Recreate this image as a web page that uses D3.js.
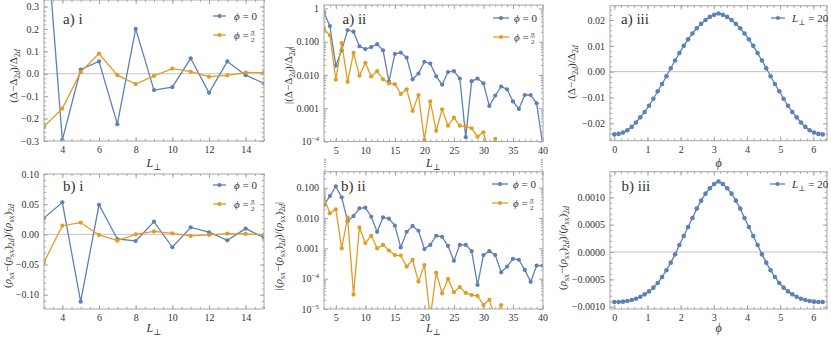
<!DOCTYPE html>
<html>
<head>
<meta charset="utf-8">
<script src="https://cdn.jsdelivr.net/npm/d3@7"></script>
<style>
body { margin: 0; background: #fff; }
svg text { font-family: "Liberation Serif", "DejaVu Serif", serif; fill: #333; }
</style>
</head>
<body>
<script>
// ---- data ----
var L_short = [3, 4, 5, 6, 7, 8, 9, 10, 11, 12, 13, 14, 15];
var L_long = [3, 4, 5, 6, 7, 8, 9, 10, 11, 12, 13, 14, 15, 16, 17, 18, 19, 20, 21, 22,
              23, 24, 25, 26, 27, 28, 29, 30, 31, 32, 33, 34, 35, 36, 37, 38, 39, 40];
var phiGrid = [0, 0.131, 0.262, 0.393, 0.524, 0.654, 0.785, 0.916, 1.047, 1.178, 1.309, 1.440,
               1.571, 1.702, 1.833, 1.963, 2.094, 2.225, 2.356, 2.487, 2.618, 2.749, 2.880, 3.011,
               3.142, 3.272, 3.403, 3.534, 3.665, 3.796, 3.927, 4.058, 4.189, 4.320, 4.451, 4.581,
               4.712, 4.843, 4.974, 5.105, 5.236, 5.367, 5.498, 5.629, 5.760, 5.890, 6.021, 6.152, 6.283];

// a) i  (Delta - Delta_2d)/Delta_2d
var aI_phi0 = [0.76, -0.295, 0.019, 0.055, -0.225, 0.2, -0.073, -0.06, 0.069, -0.085, 0.055, -0.0063, -0.043];
var aI_phiHalf = [-0.236, -0.155, 0.0072, 0.09, -0.0062, -0.046, -0.0095, 0.023, 0.009, -0.013, -0.0074, 0.0056, 0.0053];

// a) ii  absolute values, log axis
var aII_phi0 = [0.76, 0.295, 0.019, 0.055, 0.225, 0.2, 0.073, 0.06, 0.069, 0.085, 0.055, 0.0063, 0.043,
                0.047, 0.033, 0.0074, 0.011, 0.025, 0.022, 0.0091, 0.0051, 0.0123, 0.013, 0.0078, 0.000135,
                0.0065, 0.0078, 0.0056, 0.00117, 0.0024, 0.0045, 0.0037, 0.0016, 0.00095, 0.0025, 0.0025,
                0.0014, 0.00009];
var aII_L_half = L_long.slice(0, 30);
var aII_phiHalf = [0.236, 0.155, 0.0072, 0.09, 0.0062, 0.046, 0.0095, 0.023, 0.009, 0.013, 0.0074, 0.0056,
                   0.0053, 0.0027, 0.0037, 0.00083, 0.0025, 0.000112, 0.0016, 0.00021, 0.00093, 0.0003,
                   0.00052, 0.0003, 0.00028, 0.00025, 0.00014, 0.00019, 0.000047, 0.00012];

// a) iii  L = 20 versus phi
var aIII_L20 = [-0.0243, -0.0241, -0.0236, -0.0227, -0.0214, -0.0197, -0.0177, -0.0156, -0.0132, -0.0105,
                -0.0076, -0.0048, -0.0018, 0.0013, 0.0043, 0.0072, 0.0100, 0.0125, 0.0148, 0.0168, 0.0185,
                0.0200, 0.0212, 0.0220, 0.0225, 0.0220, 0.0212, 0.0200, 0.0185, 0.0168, 0.0148, 0.0125,
                0.0100, 0.0072, 0.0043, 0.0013, -0.0018, -0.0048, -0.0076, -0.0105, -0.0132, -0.0156,
                -0.0177, -0.0197, -0.0214, -0.0227, -0.0236, -0.0241, -0.0243];

// b) i  (rho_sx - (rho_sx)_2d)/(rho_sx)_2d
var bI_phi0 = [0.027, 0.053, -0.1115, 0.049, -0.0077, -0.011, 0.021, -0.0214, 0.0115, 0.0035, -0.0099, 0.0095, -0.0055];
var bI_phiHalf = [-0.046, 0.0143, 0.0195, -0.001, -0.0105, 0.00003, 0.0049, 0.0015, -0.0026, -0.001, 0.0013, 0.00085, -0.0006];

// b) ii  absolute values, log axis
var bII_phi0 = [0.027, 0.053, 0.11, 0.048, 0.0079, 0.0116, 0.021, 0.022, 0.011, 0.0035, 0.0105, 0.0095, 0.0056,
                0.00107, 0.0035, 0.0055, 0.0038, 0.00095, 0.0013, 0.0026, 0.0024, 0.0012, 0.00039, 0.0013,
                0.0013, 0.00081, 0.000062, 0.0006, 0.00081, 0.0006, 0.000162, 0.00025, 0.00045, 0.00042,
                0.000195, 0.000079, 0.00027, 0.00027];
var bII_L_half = L_long.slice(0, 31);
var bII_phiHalf = [0.046, 0.0143, 0.0195, 0.001, 0.0105, 0.00003, 0.0049, 0.0015, 0.0026, 0.001, 0.0013,
                   0.00085, 0.0006, 0.00058, 0.00025, 0.00042, 0.00008, 0.00028, 0.000005, 0.000158,
                   0.000033, 0.000098, 0.000036, 0.000053, 0.000034, 0.000029, 0.000027, 0.0000135,
                   0.00002, 0.000005, 0.0000135];

// b) iii
var bIII_L20 = [-0.000915, -0.000913, -0.000908, -0.000896, -0.000878, -0.000854, -0.000817, -0.000774,
                -0.000720, -0.000652, -0.000567, -0.000457, -0.000335, -0.000195, -0.000043, 0.000128,
                0.000293, 0.000457, 0.000622, 0.000793, 0.000939, 0.001067, 0.001165, 0.001244, 0.001290,
                0.001244, 0.001165, 0.001067, 0.000939, 0.000793, 0.000622, 0.000457, 0.000293, 0.000128,
                -0.000043, -0.000195, -0.000335, -0.000457, -0.000567, -0.000652, -0.000720, -0.000774,
                -0.000817, -0.000854, -0.000878, -0.000896, -0.000908, -0.000913, -0.000915];

// tick values
var xTicksL = [4, 6, 8, 10, 12, 14];
var xTicksLlong = [5, 10, 15, 20, 25, 30, 35, 40];
var xTicksPhi = [0, 1, 2, 3, 4, 5, 6];
var yTicksAI = [-0.3, -0.2, -0.1, 0, 0.1, 0.2, 0.3];
var yTicksAII = [0.0001, 0.001, 0.01, 0.1, 1];
var yTicksAIII = [-0.02, -0.01, 0, 0.01, 0.02];
var yTicksBI = [-0.1, -0.05, 0, 0.05, 0.1];
var yTicksBII = [0.00001, 0.0001, 0.001, 0.01, 0.1];
var yTicksBIII = [-0.001, -0.0005, 0, 0.0005, 0.001];

var blue = "#5e81b5", orange = "#e19c24";
var frameCol = "#a6a6a6";

var svg = d3.select("body").append("svg").attr("width", 831).attr("height", 337);

// steps between a and b (for minor ticks)
function steps(a, b, s) {
  var out = [];
  for (var v = a; v <= b + s * 1e-6; v += s) out.push(+v.toFixed(8));
  return out;
}
function logMinor(lo, hi) {
  var out = [];
  for (var e = lo; e < hi; e++) for (var m = 2; m <= 9; m++) out.push(m * Math.pow(10, e));
  return out;
}

// rich text: parts = [{t, i (italic), sub, sup}]
function rich(sel, parts, size) {
  var shift = 0;
  parts.forEach(function(p) {
    var target = p.sub ? 3 : (p.sup ? -4 : 0);
    var ts = sel.append("tspan").text(p.t).attr("dy", target - shift);
    if (p.i) ts.attr("font-style", "italic");
    if (p.sub || p.sup) ts.attr("font-size", size * 0.72);
    shift = target;
  });
}

function logLabel(d) {
  if (d >= 0.001) return d === 1 ? "1" : d3.format(".3f")(d);
  return "";
}

function drawPanel(p) {
  var g = svg.append("g");
  var x = d3.scaleLinear().domain(p.xDom).range(p.xRng);
  var y = (p.log ? d3.scaleLog() : d3.scaleLinear()).domain(p.yDom).range(p.yRng);
  var f = p.frame; // [left, top, right, bottom]

  var clip = svg.append("clipPath").attr("id", "clip" + p.id);
  clip.append("rect").attr("x", f[0]).attr("y", f[1]).attr("width", f[2] - f[0]).attr("height", f[3] - f[1]);

  if (p.zero) {
    g.append("line").attr("x1", f[0]).attr("x2", f[2]).attr("y1", y(0)).attr("y2", y(0))
      .attr("stroke", "#c4c4c4").attr("stroke-width", 1);
  }

  var plot = g.append("g").attr("clip-path", "url(#clip" + p.id + ")");
  p.series.forEach(function(s) {
    var pts = s.x.map(function(v, i) { return [v, s.y[i]]; });
    plot.append("path").datum(pts)
      .attr("fill", "none").attr("stroke", s.color).attr("stroke-width", 1.3)
      .attr("d", d3.line().x(function(d) { return x(d[0]); }).y(function(d) { return y(d[1]); }));
    plot.selectAll(null).data(pts).enter().append("circle")
      .attr("cx", function(d) { return x(d[0]); })
      .attr("cy", function(d) { return y(d[1]); })
      .attr("r", s.r || 2.1).attr("fill", s.color);
  });

  var style = function(sel) {
    sel.select(".domain").remove();
    sel.selectAll("line").attr("stroke", frameCol);
    sel.attr("font-family", null).attr("font-size", 10);
    sel.selectAll("text").attr("fill", "#333");
  };
  var addAxis = function(fn, scale, vals, size, tr, fmt) {
    var a = fn(scale).tickValues(vals).tickSize(-size).tickPadding(5).tickFormat(fmt || "");
    return g.append("g").attr("transform", tr).call(a).call(style);
  };
  var bt = "translate(0," + f[3] + ")", tp = "translate(0," + f[1] + ")";
  var lf = "translate(" + f[0] + ",0)", rt = "translate(" + f[2] + ",0)";

  addAxis(d3.axisBottom, x, p.xTicks, 4, bt, d3.format("d"));
  addAxis(d3.axisBottom, x, p.xMinor, 2.2, bt);
  addAxis(d3.axisTop, x, p.xTicks, 4, tp);
  addAxis(d3.axisTop, x, p.xMinor, 2.2, tp);
  var yl = addAxis(d3.axisLeft, y, p.yTicks, 4, lf, p.yFmt);
  addAxis(d3.axisLeft, y, p.yMinor, 2.2, lf);
  addAxis(d3.axisRight, y, p.yTicks, 4, rt);
  addAxis(d3.axisRight, y, p.yMinor, 2.2, rt);

  if (p.log) {
    yl.selectAll(".tick text").each(function(d) {
      if (d < 0.001) {
        var t = d3.select(this).text("10");
        t.append("tspan").attr("dy", -4).attr("font-size", 7).text("\u2212" + Math.round(-Math.log10(d)));
      }
    });
  }

  g.append("rect").attr("x", f[0]).attr("y", f[1]).attr("width", f[2] - f[0]).attr("height", f[3] - f[1])
    .attr("fill", "none").attr("stroke", frameCol).attr("stroke-width", 1);

  // panel tag
  g.append("text").attr("x", p.tag[0]).attr("y", p.tag[1]).attr("font-size", 15).attr("fill", "#111").text(p.tag[2]);

  // x label
  var xl = g.append("text").attr("x", (f[0] + f[2]) / 2).attr("y", p.xlabY).attr("text-anchor", "middle").attr("font-size", 12);
  rich(xl, p.xlab, 12);

  // y label
  var ylab = g.append("text").attr("transform", "translate(" + p.ylabPos[0] + "," + p.ylabPos[1] + ") rotate(-90)")
    .attr("text-anchor", "middle").attr("font-size", 11);
  rich(ylab, p.ylab, 11);

  // legend
  p.legend.forEach(function(e) {
    var lx0 = p.legX[0], lx1 = p.legX[1];
    g.append("line").attr("x1", lx0).attr("x2", lx1).attr("y1", e.y).attr("y2", e.y)
      .attr("stroke", e.color).attr("stroke-width", 1.3);
    g.append("circle").attr("cx", (lx0 + lx1) / 2).attr("cy", e.y).attr("r", 2.1).attr("fill", e.color);
    var t = g.append("text").attr("x", p.legX[2]).attr("y", e.y + 3.5).attr("font-size", 11);
    rich(t, e.parts, 11);
    if (e.frac) {
      var fx = p.legX[2] + t.node().getComputedTextLength() + 4;
      g.append("text").attr("x", fx).attr("y", e.y - 1.5).attr("font-size", 7).attr("text-anchor", "middle").text(e.frac[0]);
      g.append("line").attr("x1", fx - 2.5).attr("x2", fx + 2.5).attr("y1", e.y).attr("y2", e.y).attr("stroke", "#333").attr("stroke-width", 0.5);
      g.append("text").attr("x", fx).attr("y", e.y + 6.5).attr("font-size", 7).attr("text-anchor", "middle").text(e.frac[1]);
    }
  });
}

var Lperp = [{ t: "L", i: true }, { t: "\u22a5", sub: true }];
var phiLab = [{ t: "\u03d5", i: true }];
var legPhi = [
  { color: blue, parts: [{ t: "\u03d5", i: true }, { t: " = 0" }] },
  { color: orange, parts: [{ t: "\u03d5", i: true }, { t: " = " }], frac: ["\u03c0", "2"] }
];
var legL = [{ color: blue, parts: [{ t: "L", i: true }, { t: "\u22a5", sub: true }, { t: " = 20" }] }];

var labDelta = [{ t: "(\u0394\u2212\u0394" }, { t: "2", sub: true }, { t: "d", sub: true, i: true },
                { t: ")/\u0394" }, { t: "2", sub: true }, { t: "d", sub: true, i: true }];
var labDeltaAbs = [{ t: "|(\u0394\u2212\u0394" }, { t: "2", sub: true }, { t: "d", sub: true, i: true },
                   { t: ")/\u0394" }, { t: "2", sub: true }, { t: "d", sub: true, i: true }, { t: "|" }];
var labRho = [{ t: "(" }, { t: "\u03c1", i: true }, { t: "sx", sub: true }, { t: "\u2212(" }, { t: "\u03c1", i: true },
              { t: "sx", sub: true }, { t: ")" }, { t: "2", sub: true }, { t: "d", sub: true, i: true }, { t: ")/(" },
              { t: "\u03c1", i: true }, { t: "sx", sub: true }, { t: ")" }, { t: "2", sub: true }, { t: "d", sub: true, i: true }];
var labRhoAbs = [{ t: "|" }].concat(labRho).concat([{ t: "|" }]);

var fmt1 = d3.format(".1f"), fmt2 = d3.format(".2f"), fmt4 = d3.format(".4f");

drawPanel({
  id: "ai", frame: [44, 0, 264, 141], xDom: [3, 15], xRng: [44, 264],
  yDom: [-0.3, 0.3], yRng: [141, 6.5], zero: true,
  xTicks: xTicksL, xMinor: steps(3, 15, 0.5), yTicks: yTicksAI, yMinor: steps(-0.3, 0.3, 0.02), yFmt: fmt1,
  series: [{ x: L_short, y: aI_phi0, color: blue }, { x: L_short, y: aI_phiHalf, color: orange }],
  tag: [63, 24, "a) i"], xlab: Lperp, xlabY: 167, ylab: labDelta, ylabPos: [17, 76],
  legX: [213, 226, 234], legend: [Object.assign({ y: 16 }, legPhi[0]), Object.assign({ y: 35 }, legPhi[1])]
});
drawPanel({
  id: "aii", frame: [324, 5, 543, 141.5], xDom: [3, 40], xRng: [324, 542.5], log: true,
  yDom: [0.0001, 0.1], yRng: [141.5, 41.7],
  xTicks: xTicksLlong, xMinor: steps(3, 40, 1), yTicks: yTicksAII, yMinor: logMinor(-4, 0), yFmt: logLabel,
  series: [{ x: L_long, y: aII_phi0, color: blue }, { x: aII_L_half, y: aII_phiHalf, color: orange }],
  tag: [342.5, 24, "a) ii"], xlab: Lperp, xlabY: 167, ylab: labDeltaAbs, ylabPos: [292, 75],
  legX: [493, 509, 514], legend: [Object.assign({ y: 18 }, legPhi[0]), Object.assign({ y: 37 }, legPhi[1])]
});
drawPanel({
  id: "aiii", frame: [610, 5.7, 827, 140.7], xDom: [0, 6], xRng: [614.3, 813.3],
  yDom: [-0.02, 0.02], yRng: [123.3, 20], zero: true,
  xTicks: xTicksPhi, xMinor: steps(0, 6.4, 0.2), yTicks: yTicksAIII, yMinor: steps(-0.026, 0.024, 0.002), yFmt: fmt2,
  series: [{ x: phiGrid, y: aIII_L20, color: blue, r: 2.3 }],
  tag: [621, 24, "a) iii"], xlab: phiLab, xlabY: 167, ylab: labDelta, ylabPos: [575, 72],
  legX: [771, 785, 792], legend: [Object.assign({ y: 18 }, legL[0])]
});
drawPanel({
  id: "bi", frame: [44, 174, 264, 309], xDom: [3, 15], xRng: [44, 264],
  yDom: [-0.1, 0.1], yRng: [294.7, 174], zero: true,
  xTicks: xTicksL, xMinor: steps(3, 15, 0.5), yTicks: yTicksBI, yMinor: steps(-0.12, 0.1, 0.01), yFmt: fmt2,
  series: [{ x: L_short, y: bI_phi0, color: blue }, { x: L_short, y: bI_phiHalf, color: orange }],
  tag: [63, 191, "b) i"], xlab: Lperp, xlabY: 332, ylab: labRho, ylabPos: [11, 246],
  legX: [213, 226, 234], legend: [Object.assign({ y: 185 }, legPhi[0]), Object.assign({ y: 204 }, legPhi[1])]
});
drawPanel({
  id: "bii", frame: [324, 171.7, 543, 309], xDom: [3, 40], xRng: [324, 542.5], log: true,
  yDom: [0.00001, 0.1], yRng: [309, 187.7],
  xTicks: xTicksLlong, xMinor: steps(3, 40, 1), yTicks: yTicksBII, yMinor: logMinor(-5, 0), yFmt: logLabel,
  series: [{ x: L_long, y: bII_phi0, color: blue }, { x: bII_L_half, y: bII_phiHalf, color: orange }],
  tag: [341, 191, "b) ii"], xlab: Lperp, xlabY: 332, ylab: labRhoAbs, ylabPos: [282, 246],
  legX: [492, 508, 513], legend: [Object.assign({ y: 184 }, legPhi[0]), Object.assign({ y: 203 }, legPhi[1])]
});
drawPanel({
  id: "biii", frame: [610, 171.7, 827, 309], xDom: [0, 6], xRng: [614.3, 813.3],
  yDom: [-0.001, 0.001], yRng: [306.7, 197.3], zero: true,
  xTicks: xTicksPhi, xMinor: steps(0, 6.4, 0.2), yTicks: yTicksBIII, yMinor: steps(-0.001, 0.0014, 0.0001), yFmt: fmt4,
  series: [{ x: phiGrid, y: bIII_L20, color: blue, r: 2.3 }],
  tag: [621.5, 191, "b) iii"], xlab: phiLab, xlabY: 332, ylab: labRho, ylabPos: [566, 248],
  legX: [770, 785, 792], legend: [Object.assign({ y: 184 }, legL[0])]
});
</script>
</body>
</html>
